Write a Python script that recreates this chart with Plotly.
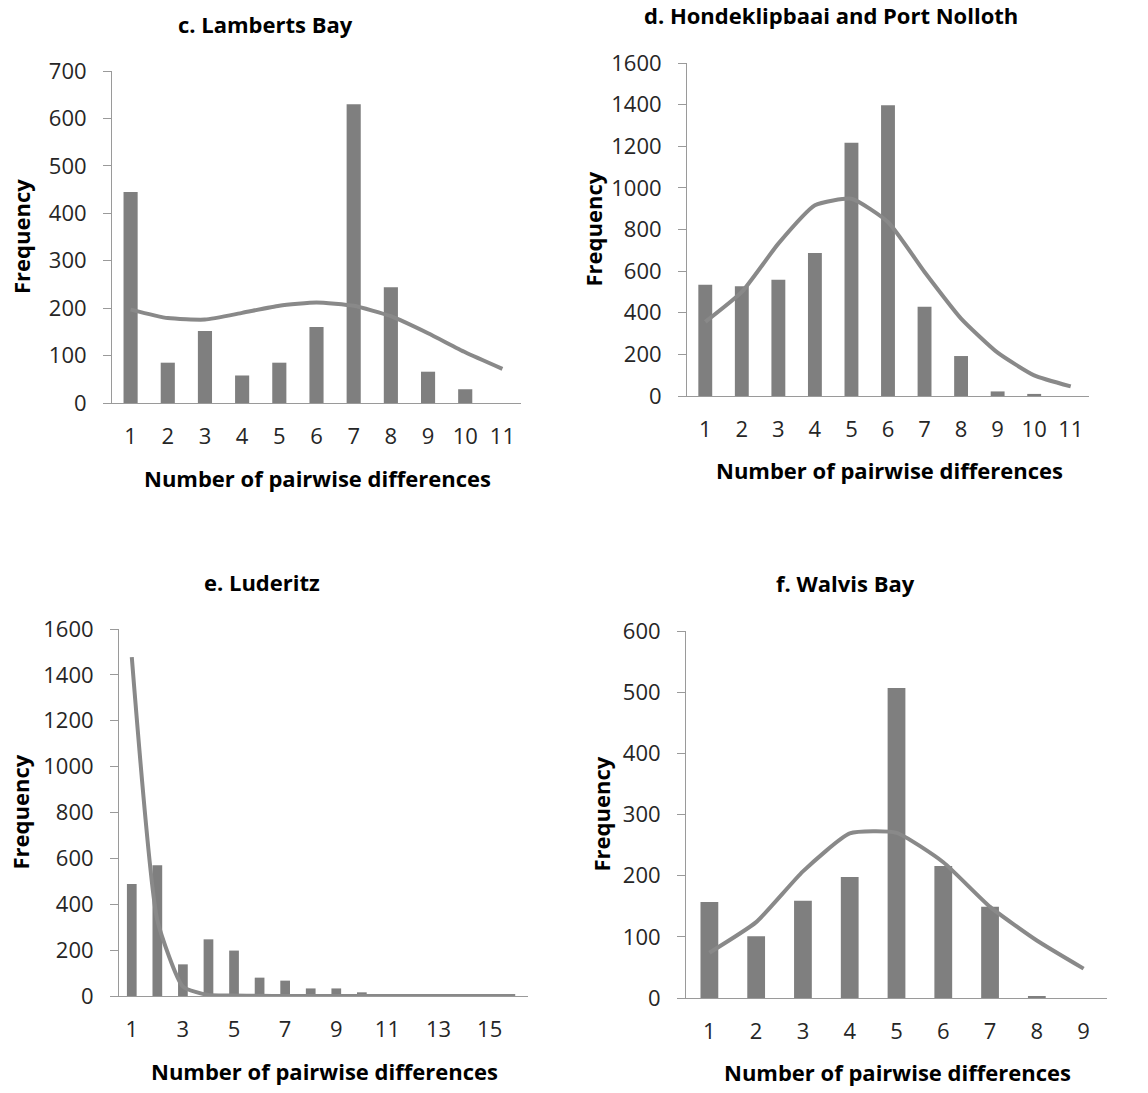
import plotly.graph_objects as go

W, H = 1148, 1093

# --- data -------------------------------------------------------------
lamberts_x = list(range(1, 12))
lamberts_obs = [445, 85, 152, 58, 85, 160, 630, 244, 66, 29, 0]
lamberts_exp = [197, 179, 176, 190, 205, 212, 205, 183, 147, 107, 72]

hondek_x = list(range(1, 12))
hondek_obs = [535, 527, 559, 687, 1217, 1397, 429, 192, 22, 10, 0]
hondek_exp = [356, 500, 732, 916, 948, 836, 596, 372, 208, 99, 46]

luderitz_x = list(range(1, 17))
luderitz_obs = [488, 570, 138, 247, 198, 80, 67, 33, 33, 16, 0, 0, 0, 0, 0, 0]
luderitz_exp = [1477, 330, 41, 4, 2, 1, 0, 0, 0, 0, 0, 0, 0, 0, 0, 0]

walvis_x = list(range(1, 10))
walvis_obs = [157, 101, 159, 198, 507, 216, 149, 3, 0]
walvis_exp = [74, 124, 207, 269, 270, 222, 149, 94, 48]

titles = ["c. Lamberts Bay", "d. Hondeklipbaai and Port Nolloth",
          "e. Luderitz", "f. Walvis Bay"]
y_ranges = [(0, 700, 100), (0, 1600, 200), (0, 1600, 200), (0, 600, 100)]
x_ticks = [lamberts_x, hondek_x, luderitz_x[::2], walvis_x]

panels = [
    (lamberts_x, lamberts_obs, lamberts_exp),
    (hondek_x, hondek_obs, hondek_exp),
    (luderitz_x, luderitz_obs, luderitz_exp),
    (walvis_x, walvis_obs, walvis_exp),
]

# plot-area boxes in pixels: left, right, top, bottom
boxes = [
    (112, 521, 71, 403),
    (687, 1089, 63, 396),
    (119, 528, 629, 996),
    (686, 1107, 631, 998),
]
# title / axis-title placement in pixels
title_pos = [(265, 24), (831, 15), (262, 582), (845, 583)]
xtitle_y = [478, 470, 1071, 1072]
ytitle_x = [21, 593, 19, 600]

BAR = "#7f7f7f"
LINE = "#898989"
AXIS = "#9a9a9a"
FONT = "Open Sans"
TICK_SIZE = 22
BOLD_SIZE = 22

fig = go.Figure()
layout = dict(
    width=W, height=H, margin=dict(l=0, r=0, t=0, b=0, autoexpand=False),
    paper_bgcolor="white", plot_bgcolor="white",
    showlegend=False, bargap=0.62,
    font=dict(family=FONT, color="#262626"),
)
annotations = []


def px(xp):
    return xp / W


def py(yp):
    return 1 - yp / H


for i, ((xs, obs, exp), (l, r, t, b)) in enumerate(zip(panels, boxes)):
    n = i + 1
    xa = "x" if n == 1 else f"x{n}"
    ya = "y" if n == 1 else f"y{n}"
    fig.add_trace(go.Bar(x=xs, y=obs, marker=dict(color=BAR, line=dict(width=0)),
                         width=0.38, xaxis=xa, yaxis=ya))
    fig.add_trace(go.Scatter(x=xs, y=exp, mode="lines",
                             line=dict(color=LINE, width=4, shape="spline", smoothing=0.5),
                             xaxis=xa, yaxis=ya))
    y0, y1, dy = y_ranges[i]
    xkey = "xaxis" if n == 1 else f"xaxis{n}"
    ykey = "yaxis" if n == 1 else f"yaxis{n}"
    layout[xkey] = dict(
        domain=[px(l), px(r)], anchor=ya, range=[0.5, len(xs) + 0.5],
        tickmode="array", tickvals=x_ticks[i], ticks="", ticklen=0,
        showline=True, linecolor=AXIS, linewidth=1, showgrid=False,
        zeroline=False, tickfont=dict(family=FONT, size=TICK_SIZE, color="#262626"),
        ticklabelstandoff=14, fixedrange=True, automargin=False,
    )
    layout[ykey] = dict(
        domain=[py(b), py(t)], anchor=xa, range=[y0, y1],
        tickmode="linear", tick0=0, dtick=dy, ticks="outside", ticklen=8,
        tickcolor=AXIS, showline=True, linecolor=AXIS, linewidth=1,
        showgrid=False, zeroline=False,
        tickfont=dict(family=FONT, size=TICK_SIZE, color="#262626"),
        ticklabelstandoff=12, fixedrange=True, automargin=False,
    )
    tx, ty = title_pos[i]
    annotations.append(dict(text=f"<b>{titles[i]}</b>", x=px(tx), y=py(ty),
                            xref="paper", yref="paper", showarrow=False,
                            xanchor="center", yanchor="middle",
                            font=dict(family=FONT, size=BOLD_SIZE, color="#000000")))
    annotations.append(dict(text="<b>Number of pairwise differences</b>",
                            x=px((l + r) / 2 + 1), y=py(xtitle_y[i]),
                            xref="paper", yref="paper", showarrow=False,
                            xanchor="center", yanchor="middle",
                            font=dict(family=FONT, size=BOLD_SIZE, color="#000000")))
    annotations.append(dict(text="<b>Frequency</b>", x=px(ytitle_x[i]),
                            y=py((t + b) / 2), xref="paper", yref="paper",
                            showarrow=False, textangle=-90,
                            xanchor="center", yanchor="middle",
                            font=dict(family=FONT, size=BOLD_SIZE, color="#000000")))

layout["annotations"] = annotations
fig.update_layout(**layout)
fig.write_html("out.html")
